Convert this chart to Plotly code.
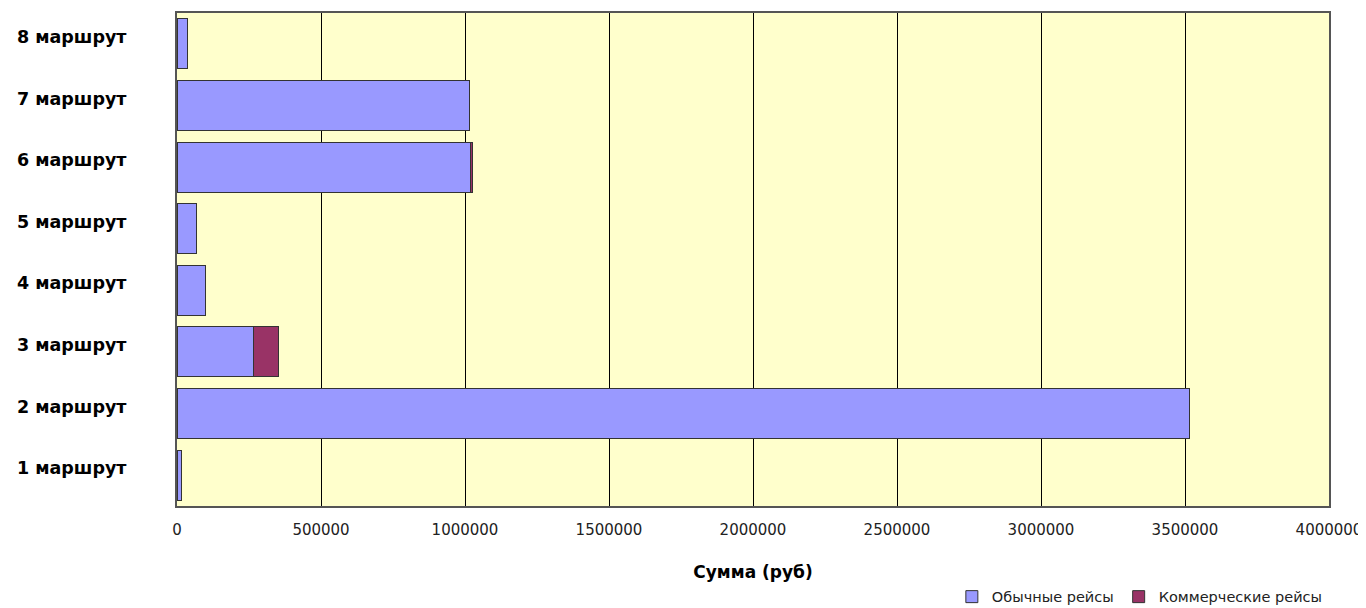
import plotly.graph_objects as go

routes = ["1 маршрут", "2 маршрут", "3 маршрут", "4 маршрут", "5 маршрут", "6 маршрут", "7 маршрут", "8 маршрут"]
regular = [17000, 3517000, 265000, 100000, 66000, 1020000, 1015000, 35000]
commercial = [None, None, 89000, None, None, 5000, None, None]
x_ticks = [0, 500000, 1000000, 1500000, 2000000, 2500000, 3000000, 3500000, 4000000]

fig = go.Figure()
fig.add_trace(go.Bar(y=routes, x=regular, orientation="h", name="Обычные рейсы",
                     marker=dict(color="#9999ff", line=dict(color="#333333", width=1))))
fig.add_trace(go.Bar(y=routes, x=commercial, orientation="h", name="Коммерческие рейсы",
                     marker=dict(color="#993366", line=dict(color="#333333", width=1))))

fig.update_layout(
    barmode="stack",
    bargap=0.19,
    width=1366, height=608,
    margin=dict(l=169, r=45, t=3, b=107),
    paper_bgcolor="white",
    plot_bgcolor="#ffffcc",
    font=dict(family="DejaVu Sans, Liberation Sans, Arial, sans-serif", color="black"),
    xaxis=dict(range=[0, 4000000], tickvals=x_ticks, ticktext=[str(v) for v in x_ticks],
               showgrid=True, gridcolor="black", gridwidth=1, zeroline=False,
               showline=True, linecolor="#555555", linewidth=2, mirror=True,
               tickfont=dict(size=15, color="#222222"), ticklabelstandoff=9,
               title=dict(text="Сумма (руб)", font=dict(size=17, weight="bold"), standoff=28)),
    yaxis=dict(showgrid=False, zeroline=False, showline=True, linecolor="#555555", linewidth=2,
               mirror=True, tickfont=dict(size=17.5, weight="bold"), ticklabelstandoff=45,
               ticklabelshift=-7),
    legend=dict(orientation="h", traceorder="normal", xanchor="right", x=0.999,
                yanchor="middle", y=-0.184, font=dict(size=14.5, color="#222222"),
                itemwidth=30, bgcolor="rgba(0,0,0,0)"),
)

fig.write_html("out.html")
